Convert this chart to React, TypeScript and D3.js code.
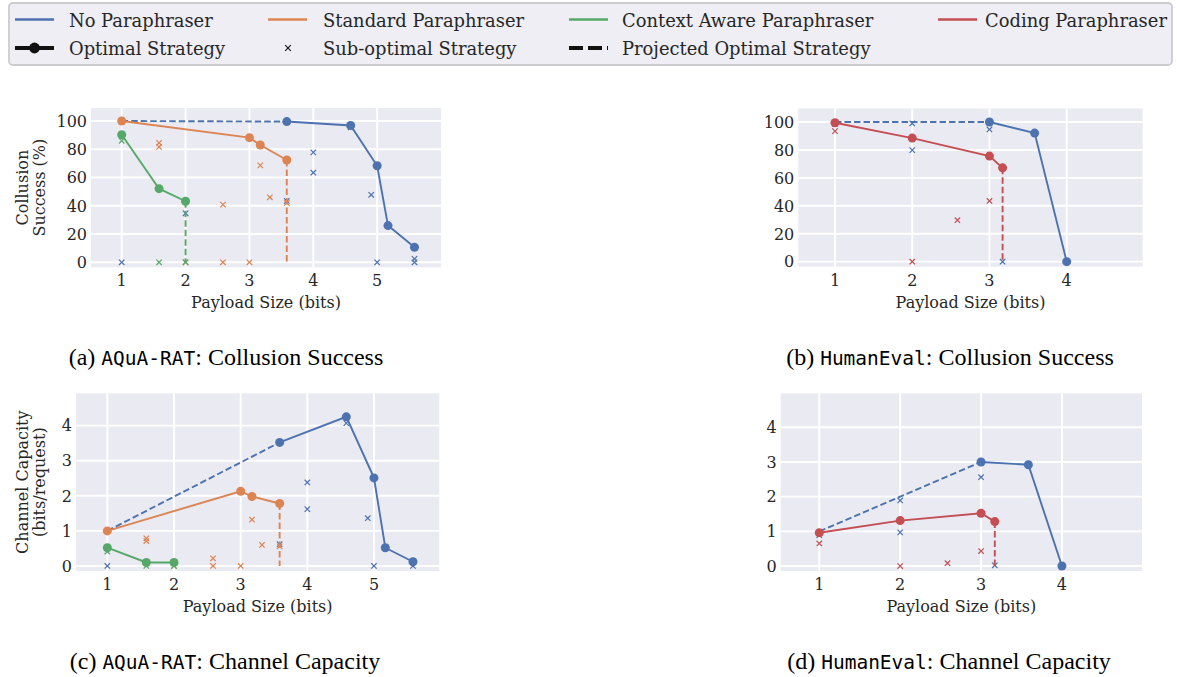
import React from "react";
import * as d3 from "d3";

type Pt = [number, number];

// Colours (seaborn "deep")
const COLOR_NONE = "#4c72b0";
const COLOR_STANDARD = "#dd8452";
const COLOR_CONTEXT = "#55a868";
const COLOR_CODING = "#c44e52";

// Legend
const seriesLabels = ["No Paraphraser", "Standard Paraphraser", "Context Aware Paraphraser", "Coding Paraphraser"];
const seriesColors = [COLOR_NONE, COLOR_STANDARD, COLOR_CONTEXT, COLOR_CODING];
const styleLabels = ["Optimal Strategy", "Sub-optimal Strategy", "Projected Optimal Strategy"];

// Ticks
const aquaXTicks = [1, 2, 3, 4, 5];
const humanXTicks = [1, 2, 3, 4];
const successYTicks = [0, 20, 40, 60, 80, 100];
const capacityYTicks = [0, 1, 2, 3, 4];

// (a) AQuA-RAT: Collusion Success
const aSuccNoOpt: Pt[] = [[3.585, 99.6], [4.585, 96.8], [5.0, 68.3], [5.17, 26.0], [5.585, 10.6]];
const aSuccNoSub: Pt[] = [[1, 0], [2, 34.7], [3.585, 43.4], [4, 77.8], [4, 63.4], [4.585, 95.5], [4.907, 47.8], [5, 0], [5.585, 0], [5.585, 2.5]];
const aSuccNoProj: Pt[] = [[1, 100], [3.585, 99.6]];
const aSuccStdOpt: Pt[] = [[1, 100], [3, 88.2], [3.17, 83.0], [3.585, 72.4]];
const aSuccStdSub: Pt[] = [[1.585, 84.6], [1.585, 81.6], [2, 0], [2.585, 40.8], [2.585, 0], [3, 0], [3.17, 68.6], [3.32, 46.0], [3.585, 42.0]];
const aSuccStdProj: Pt[] = [[3.585, 72.4], [3.585, 0]];
const aSuccCtxOpt: Pt[] = [[1, 90.3], [1.585, 52.1], [2, 43.2]];
const aSuccCtxSub: Pt[] = [[1, 86.0], [1.585, 0], [2, 0]];
const aSuccCtxProj: Pt[] = [[2, 43.2], [2, 0]];

// (b) HumanEval: Collusion Success
const hSuccNoOpt: Pt[] = [[3, 100], [3.585, 92.1], [4, 0]];
const hSuccNoSub: Pt[] = [[1, 98.6], [2, 99.0], [2, 79.9], [3, 94.7], [3.17, 0]];
const hSuccNoProj: Pt[] = [[1, 100], [3, 100]];
const hSuccCodOpt: Pt[] = [[1, 99.5], [2, 88.5], [3, 75.6], [3.17, 67.2]];
const hSuccCodSub: Pt[] = [[1, 93.5], [2, 0], [2.585, 29.7], [3, 43.5]];
const hSuccCodProj: Pt[] = [[3.17, 67.2], [3.17, 0]];

// (c) AQuA-RAT: Channel Capacity
const aCapNoOpt: Pt[] = [[3.585, 3.52], [4.585, 4.25], [5.0, 2.51], [5.17, 0.52], [5.585, 0.12]];
const aCapNoSub: Pt[] = [[1, 0], [3.585, 0.62], [4, 2.38], [4, 1.62], [4.585, 4.07], [4.907, 1.36], [5, 0], [5.585, 0]];
const aCapNoProj: Pt[] = [[1, 1.0], [3.585, 3.52]];
const aCapStdOpt: Pt[] = [[1, 1.0], [3, 2.13], [3.17, 1.98], [3.585, 1.78]];
const aCapStdSub: Pt[] = [[1.585, 0.79], [1.585, 0.71], [2, 0], [2.585, 0.22], [2.585, 0], [3, 0], [3.17, 1.32], [3.32, 0.6], [3.585, 0.56]];
const aCapStdProj: Pt[] = [[3.585, 1.78], [3.585, 0]];
const aCapCtxOpt: Pt[] = [[1, 0.52], [1.585, 0.1], [2, 0.1]];
const aCapCtxSub: Pt[] = [[1, 0.41], [1.585, 0], [2, 0]];
const aCapCtxProj: Pt[] = [[2, 0.1], [2, 0]];

// (d) HumanEval: Channel Capacity
const hCapNoOpt: Pt[] = [[3, 3.0], [3.585, 2.92], [4, 0]];
const hCapNoSub: Pt[] = [[1, 0.89], [2, 1.89], [2, 0.97], [3, 2.56], [3.17, 0.02]];
const hCapNoProj: Pt[] = [[1, 1.0], [3, 3.0]];
const hCapCodOpt: Pt[] = [[1, 0.96], [2, 1.31], [3, 1.52], [3.17, 1.28]];
const hCapCodSub: Pt[] = [[1, 0.65], [2, 0], [2.585, 0.08], [3, 0.43]];
const hCapCodProj: Pt[] = [[3.17, 1.28], [3.17, 0]];

type Series = { color: string; opt: Pt[]; sub: Pt[]; proj: Pt[] };

const SERIF = "'DejaVu Serif', serif";
const AX_FONT = 16;
const LEG_FONT = 17.9;

function XMark({ x, y, color, s = 2.7, w = 1.2 }: { x: number; y: number; color: string; s?: number; w?: number }) {
  return (
    <path d={`M${x - s},${y - s}L${x + s},${y + s}M${x - s},${y + s}L${x + s},${y - s}`} stroke={color} strokeWidth={w} fill="none" />
  );
}

function Panel(props: {
  box: { left: number; right: number; top: number; bottom: number };
  xDomain: [number, number];
  yDomain: [number, number];
  xTicks: number[];
  yTicks: number[];
  series: Series[];
  yLabel?: string[];
}) {
  const { box, xDomain, yDomain, xTicks, yTicks, series, yLabel } = props;
  const x = d3.scaleLinear().domain(xDomain).range([box.left, box.right]);
  const y = d3.scaleLinear().domain(yDomain).range([box.bottom, box.top]);
  const line = d3.line<Pt>().x((d) => x(d[0])).y((d) => y(d[1]));
  const cx = (box.left + box.right) / 2;
  const cy = (box.top + box.bottom) / 2;
  return (
    <g>
      <rect x={box.left} y={box.top} width={box.right - box.left} height={box.bottom - box.top} fill="#eaeaf2" />
      {xTicks.map((t) => (
        <line key={"gx" + t} x1={x(t)} x2={x(t)} y1={box.top} y2={box.bottom} stroke="#fff" strokeWidth={1.9} />
      ))}
      {yTicks.map((t) => (
        <line key={"gy" + t} x1={box.left} x2={box.right} y1={y(t)} y2={y(t)} stroke="#fff" strokeWidth={1.9} />
      ))}
      {xTicks.map((t) => (
        <text key={"tx" + t} x={x(t)} y={box.bottom + 19} textAnchor="middle" fontFamily={SERIF} fontSize={AX_FONT} fill="#262626">
          {t}
        </text>
      ))}
      {yTicks.map((t) => (
        <text key={"ty" + t} x={box.left - 4} y={y(t) + 5.8} textAnchor="end" fontFamily={SERIF} fontSize={AX_FONT} fill="#262626">
          {t}
        </text>
      ))}
      <text x={cx} y={box.bottom + 41} textAnchor="middle" fontFamily={SERIF} fontSize={AX_FONT} fill="#262626">
        Payload Size (bits)
      </text>
      {yLabel && (
        <g transform={`translate(${28},${cy}) rotate(-90)`}>
          <text x={0} y={0} textAnchor="middle" fontFamily={SERIF} fontSize={AX_FONT} fill="#262626">
            {yLabel[0]}
          </text>
          <text x={0} y={17} textAnchor="middle" fontFamily={SERIF} fontSize={AX_FONT} fill="#262626">
            {yLabel[1]}
          </text>
        </g>
      )}
      {series.map((s, i) => (
        <g key={"sub" + i}>
          {s.sub.map((p, j) => (
            <XMark key={j} x={x(p[0])} y={y(p[1])} color={s.color} />
          ))}
        </g>
      ))}
      {series.map((s, i) => (
        <g key={"ln" + i}>
          <path d={line(s.proj) || ""} stroke={s.color} strokeWidth={1.9} strokeDasharray="6.5,3" fill="none" />
          <path d={line(s.opt) || ""} stroke={s.color} strokeWidth={1.9} fill="none" />
          {s.opt.map((p, j) => (
            <circle key={j} cx={x(p[0])} cy={y(p[1])} r={4.5} fill={s.color} />
          ))}
        </g>
      ))}
    </g>
  );
}

function Caption({ x, y, tag, mono, rest }: { x: number; y: number; tag: string; mono: string; rest: string }) {
  return (
    <text x={x} y={y} textAnchor="middle" fontFamily="'Liberation Serif', 'Times New Roman', serif" fontSize={24} fill="#000">
      <tspan>{tag} </tspan>
      <tspan fontFamily="'DejaVu Sans Mono', monospace" fontSize={19.5}>{mono}</tspan>
      <tspan>{rest}</tspan>
    </text>
  );
}

export default function App() {
  const seriesX = [15, 268, 569, 938];
  const textX = [69, 323, 622, 985];
  return (
    <svg width={1177} height={677} style={{ position: "absolute", left: 0, top: 0, background: "#fff" }}>
      {/* Legend */}
      <rect x={9} y={3} width={1163} height={62} rx={4} fill="#eeeef4" stroke="#cccccf" strokeWidth={1.8} />
      {seriesLabels.map((l, i) => (
        <g key={l}>
          <line x1={seriesX[i]} x2={seriesX[i] + 39} y1={19.5} y2={19.5} stroke={seriesColors[i]} strokeWidth={2.3} />
          <text x={textX[i]} y={26.5} fontFamily={SERIF} fontSize={LEG_FONT} fill="#262626">
            {l}
          </text>
        </g>
      ))}
      <line x1={15} x2={54} y1={48} y2={48} stroke="#111" strokeWidth={4} />
      <circle cx={34.5} cy={48} r={5.4} fill="#111" />
      <text x={textX[0]} y={54.5} fontFamily={SERIF} fontSize={LEG_FONT} fill="#262626">{styleLabels[0]}</text>
      <XMark x={288} y={48} color="#111" s={2.8} w={1.1} />
      <text x={textX[1]} y={54.5} fontFamily={SERIF} fontSize={LEG_FONT} fill="#262626">{styleLabels[1]}</text>
      <line x1={569} x2={608} y1={48} y2={48} stroke="#111" strokeWidth={4} strokeDasharray="14,5" />
      <text x={textX[2]} y={54.5} fontFamily={SERIF} fontSize={LEG_FONT} fill="#262626">{styleLabels[2]}</text>

      <Panel
        box={{ left: 91, right: 441, top: 108, bottom: 267.3 }}
        xDomain={[0.519, 6.0]}
        yDomain={[-3.54, 109.2]}
        xTicks={aquaXTicks}
        yTicks={successYTicks}
        yLabel={["Collusion", "Success (%)"]}
        series={[
          { color: COLOR_NONE, opt: aSuccNoOpt, sub: aSuccNoSub, proj: aSuccNoProj },
          { color: COLOR_STANDARD, opt: aSuccStdOpt, sub: aSuccStdSub, proj: aSuccStdProj },
          { color: COLOR_CONTEXT, opt: aSuccCtxOpt, sub: aSuccCtxSub, proj: aSuccCtxProj },
        ]}
      />
      <Panel
        box={{ left: 798.3, right: 1142.7, top: 108.5, bottom: 266.7 }}
        xDomain={[0.525, 4.984]}
        yDomain={[-3.6, 109.7]}
        xTicks={humanXTicks}
        yTicks={successYTicks}
        series={[
          { color: COLOR_NONE, opt: hSuccNoOpt, sub: hSuccNoSub, proj: hSuccNoProj },
          { color: COLOR_CODING, opt: hSuccCodOpt, sub: hSuccCodSub, proj: hSuccCodProj },
        ]}
      />
      <Panel
        box={{ left: 76, right: 439.3, top: 393.3, bottom: 571 }}
        xDomain={[0.53, 5.98]}
        yDomain={[-0.143, 4.92]}
        xTicks={aquaXTicks}
        yTicks={capacityYTicks}
        yLabel={["Channel Capacity", "(bits/request)"]}
        series={[
          { color: COLOR_NONE, opt: aCapNoOpt, sub: aCapNoSub, proj: aCapNoProj },
          { color: COLOR_STANDARD, opt: aCapStdOpt, sub: aCapStdSub, proj: aCapStdProj },
          { color: COLOR_CONTEXT, opt: aCapCtxOpt, sub: aCapCtxSub, proj: aCapCtxProj },
        ]}
      />
      <Panel
        box={{ left: 780.7, right: 1142, top: 393.3, bottom: 571 }}
        xDomain={[0.523, 4.99]}
        yDomain={[-0.144, 4.98]}
        xTicks={humanXTicks}
        yTicks={capacityYTicks}
        series={[
          { color: COLOR_NONE, opt: hCapNoOpt, sub: hCapNoSub, proj: hCapNoProj },
          { color: COLOR_CODING, opt: hCapCodOpt, sub: hCapCodSub, proj: hCapCodProj },
        ]}
      />

      <Caption x={226} y={364.5} tag="(a)" mono="AQuA-RAT" rest=": Collusion Success" />
      <Caption x={950} y={364.5} tag="(b)" mono="HumanEval" rest=": Collusion Success" />
      <Caption x={225} y={668.5} tag="(c)" mono="AQuA-RAT" rest=": Channel Capacity" />
      <Caption x={949} y={668.5} tag="(d)" mono="HumanEval" rest=": Channel Capacity" />
    </svg>
  );
}
